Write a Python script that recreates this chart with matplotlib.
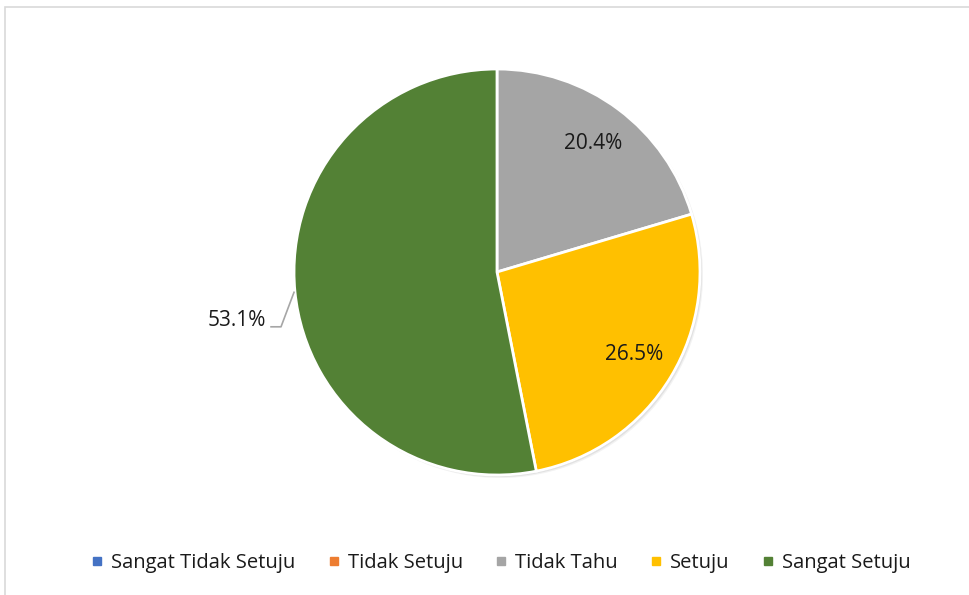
import numpy as np
import matplotlib.pyplot as plt
from matplotlib.lines import Line2D
from matplotlib.patches import Rectangle, Circle

# survey answers and their share (%)
categories = ['Sangat Tidak Setuju', 'Tidak Setuju', 'Tidak Tahu', 'Setuju', 'Sangat Setuju']
values = [0.0, 0.0, 20.4, 26.5, 53.1]
colors = ['#4472C4', '#ED7D31', '#A5A5A5', '#FFC000', '#538135']

plt.rcParams['font.family'] = ['Open Sans', 'DejaVu Sans']

W, H = 970, 595
fig = plt.figure(figsize=(W / 100, H / 100), dpi=100)

# chart border (cut off at right and bottom like the original)
fig.patches.append(Rectangle((5 / W, -0.1), 1.2, 1.1 - 7 / H, transform=fig.transFigure,
                             fill=False, edgecolor='#D9D9D9', linewidth=1.2))

# place the pie: centre (497, 272) px, radius 203 px
r = 203
cx, cy = 497, 272
lim = 1.5
size = 2 * lim * r
ax = fig.add_axes([(cx - size / 2) / W, (H - cy - size / 2) / H, size / W, size / H])

# soft shadow under the pie
for k, a in [(3.0, 0.10), (2.0, 0.15), (1.0, 0.2)]:
    ax.add_patch(Circle((k / r, -k / r), 1.0, color='#808080', alpha=a, lw=0, zorder=0))

wedges, _ = ax.pie(values, colors=colors, startangle=90, counterclock=False,
                   radius=1, wedgeprops=dict(edgecolor='white', linewidth=2))
ax.set_xlim(-lim, lim)
ax.set_ylim(-lim, lim)
ax.set_aspect('equal')
ax.axis('off')

# labels inside for the two smaller slices, outside for the big one
angle = 90.0
for v in values:
    if v == 0:
        continue
    span = v / sum(values) * 360
    mid = np.deg2rad(angle - span / 2)
    if v < 50:
        d = 0.79
        ax.text(d * np.cos(mid), d * np.sin(mid), f'{v:.1f}%', ha='center', va='center',
                fontsize=15, color='#1A1A1A')
    else:
        ax.plot([-1.0, -1.064, -1.113], [-0.10, -0.27, -0.27], color='#A6A6A6', lw=1.2,
                clip_on=False)
        ax.text(-1.138, -0.24, f'{v:.1f}%', ha='right', va='center', fontsize=15,
                color='#1A1A1A')
    angle -= span

handles = [Line2D([], [], marker='s', linestyle='none', markersize=6,
                  markerfacecolor=c, markeredgecolor=c) for c in colors]
fig.legend(handles, categories, loc='center', bbox_to_anchor=(501 / W, 1 - 563 / H),
           ncol=5, frameon=False, fontsize=14.5, handlelength=0.6, handletextpad=0.4,
           columnspacing=1.6, labelcolor='#1A1A1A')

fig.savefig('out.png', dpi=100, facecolor='white')
